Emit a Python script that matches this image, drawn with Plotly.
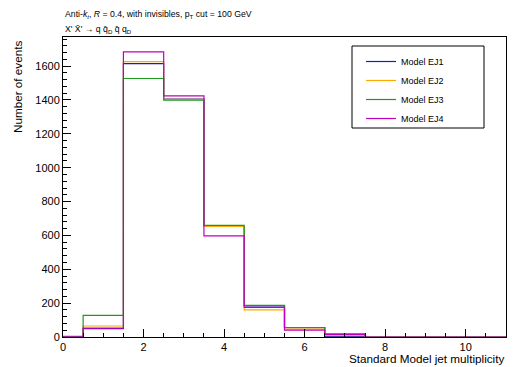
import plotly.graph_objects as go

# Bin centres (integer jet multiplicity), bin width 1
bin_centers = [0, 1, 2, 3, 4, 5, 6, 7, 8, 9, 10, 11]
model_names = ["Model EJ1", "Model EJ2", "Model EJ3", "Model EJ4"]
ej1 = [1, 50, 1615, 1405, 653, 183, 55, 2, 0, 0, 0, 0]
ej2 = [1, 65, 1627, 1403, 654, 160, 47, 8, 0, 0, 0, 0]
ej3 = [4, 128, 1527, 1399, 659, 187, 56, 19, 0, 0, 0, 0]
ej4 = [1, 53, 1684, 1424, 597, 175, 41, 16, 0, 0, 0, 0]
colors = ["#1a1ad0", "#ffaa00", "#1c9a1c", "#c000c0"]

x_ticks = [0, 2, 4, 6, 8, 10]
y_ticks = [0, 200, 400, 600, 800, 1000, 1200, 1400, 1600]

W, H = 514, 367
L, R, T, B = 63, 8, 37, 30
PW, PH = W - L - R, H - T - B


def px_x(p):
    return (p - L) / PW


def px_y(p):
    return (H - B - p) / PH


fig = go.Figure()
for name, vals, col in zip(model_names, [ej1, ej2, ej3, ej4], colors):
    xs = [bin_centers[0] - 0.5]
    ys = [0]
    for c, v in zip(bin_centers, vals):
        xs.append(c - 0.5)
        ys.append(v)
    xs.append(bin_centers[-1] + 0.5)
    ys.append(vals[-1])
    fig.add_trace(go.Scatter(x=xs, y=ys, mode="lines", name=name,
                             line=dict(color=col, width=1.2, shape="hv"),
                             hoverinfo="skip"))

font = "Liberation Sans, Arial, sans-serif"
fig.update_layout(
    width=W, height=H,
    margin=dict(l=L, r=R, t=T, b=B),
    paper_bgcolor="white", plot_bgcolor="white",
    font=dict(family=font, color="black", size=11),
    showlegend=True,
    legend=dict(x=px_x(361), y=px_y(47),
                xanchor="left", yanchor="top",
                borderwidth=0, bgcolor="rgba(0,0,0,0)",
                font=dict(size=9, family=font),
                tracegroupgap=0, itemwidth=30),
    shapes=[
        dict(type="rect", xref="paper", yref="paper",
             x0=px_x(352), x1=px_x(484), y0=px_y(46), y1=px_y(128),
             line=dict(color="black", width=1), fillcolor="rgba(0,0,0,0)",
             layer="above"),
    ],
    xaxis=dict(range=[0, 11], tickvals=x_ticks, ticks="inside", ticklen=8,
               tickcolor="black", showgrid=False, zeroline=False,
               showline=True, linecolor="black", linewidth=1, mirror=True,
               tickfont=dict(size=11),
               minor=dict(dtick=0.5, ticks="inside", ticklen=4, tickcolor="black")),
    yaxis=dict(range=[0, 1772], tickvals=y_ticks, ticks="inside", ticklen=8,
               tickcolor="black", showgrid=False, zeroline=False,
               showline=True, linecolor="black", linewidth=1, mirror=True,
               tickfont=dict(size=11),
               minor=dict(dtick=40, ticks="inside", ticklen=4, tickcolor="black")),
    annotations=[
        dict(text="Anti-<i>k</i><sub><i>t</i></sub>, <i>R</i> = 0.4, with invisibles, p<sub>T</sub> cut = 100 GeV",
             xref="paper", yref="paper", x=0, y=px_y(14),
             xanchor="left", yanchor="middle", showarrow=False,
             font=dict(size=8.7, family=font)),
        dict(text="X' X\u0304' \u2192 q q\u0304<sub>D</sub> q\u0304 q<sub>D</sub>",
             xref="paper", yref="paper", x=0, y=px_y(30),
             xanchor="left", yanchor="middle", showarrow=False,
             font=dict(size=8.7, family=font)),
        dict(text="Number of events", textangle=-90,
             xref="paper", yref="paper", x=px_x(17), y=px_y(39),
             xanchor="center", yanchor="top", showarrow=False,
             font=dict(size=11.7, family=font)),
        dict(text="Standard Model jet multiplicity",
             xref="paper", yref="paper", x=px_x(506), y=px_y(358),
             xanchor="right", yanchor="middle", showarrow=False,
             font=dict(size=11.7, family=font)),
    ],
)

fig.write_html("out.html")
